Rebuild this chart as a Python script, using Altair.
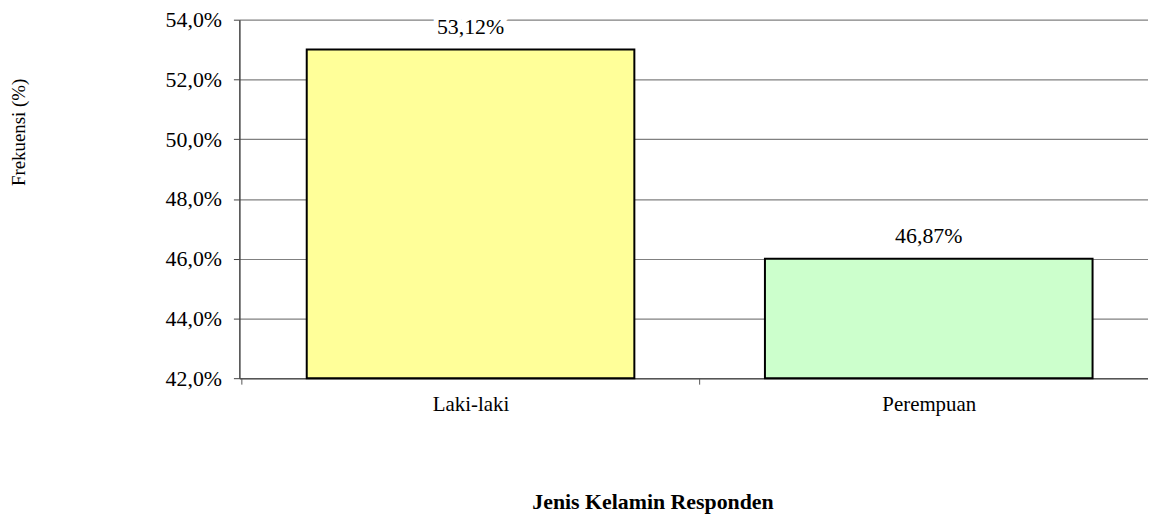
import altair as alt
import pandas as pd

categories = ["Laki-laki", "Perempuan"]
values = [53.0, 46.0]
labels = ["53,12%", "46,87%"]
colors = ["#FFFF99", "#CCFFCC"]
y_min, y_max = 42, 54
y_ticks = [42, 44, 46, 48, 50, 52, 54]

df = pd.DataFrame({"kategori": categories, "nilai": values, "label": labels, "warna": colors})

FONT = "Liberation Serif"
SHIFT = 6

x = alt.X(
    "kategori:N",
    sort=categories,
    scale=alt.Scale(paddingInner=0.285, paddingOuter=0.134),
    axis=alt.Axis(
        title="Jenis Kelamin Responden",
        titleFont=FONT, titleFontSize=22, titleFontWeight="bold", titleColor="black",
        titleX=416, titleY=131, titleBaseline="alphabetic",
        labelAngle=0, labelFont=FONT, labelFontSize=21, labelColor="black",
        labelPadding=10, bandPosition=0, tickOffset=-60, labelOffset=66,
        tickSize=6, tickColor="#555555",
        domainColor="#555555", domainWidth=1.5, grid=False,
    ),
)

y = alt.Y(
    "nilai:Q",
    scale=alt.Scale(domain=[y_min, y_max], zero=False, nice=False),
    axis=alt.Axis(
        title="Frekuensi (%)",
        titleFont=FONT, titleFontSize=19, titleFontWeight="normal", titleColor="black",
        titleX=-222, titleY=113, titleBaseline="middle", titleAngle=-90,
        values=y_ticks,
        labelExpr="replace(format(datum.value, '.1f'), '.', ',') + '%'",
        labelFont=FONT, labelFontSize=22, labelColor="black",
        labelPadding=12, tickSize=6, tickColor="#444444",
        domainColor="#444444", domainWidth=1.5,
        grid=True, gridColor="#808080", gridWidth=1.2,
    ),
)

base = alt.Chart(df)

bars = base.mark_bar(stroke="black", strokeWidth=2, xOffset=SHIFT, x2Offset=SHIFT).encode(
    x=x, y=y, y2=alt.datum(y_min),
    color=alt.Color("warna:N", scale=None),
)

halo = base.mark_text(
    baseline="alphabetic", dy=-16, dx=SHIFT, font=FONT, fontSize=22,
    stroke="white", strokeWidth=10, fill="white",
).encode(x=x, y=y, text="label:N")

text = base.mark_text(
    baseline="alphabetic", dy=-16, dx=SHIFT, font=FONT, fontSize=22, color="black",
).encode(x=x, y=y, text="label:N")

chart = (
    (bars + halo + text)
    .properties(
        width=915, height=361,
        background="white",
        autosize=alt.AutoSizeParams(type="none"),
        padding={"left": 233, "top": 10, "right": 0, "bottom": 138},
    )
    .configure_view(stroke=None)
)

chart.save("out.html", embed_options={"renderer": "svg", "actions": False})
